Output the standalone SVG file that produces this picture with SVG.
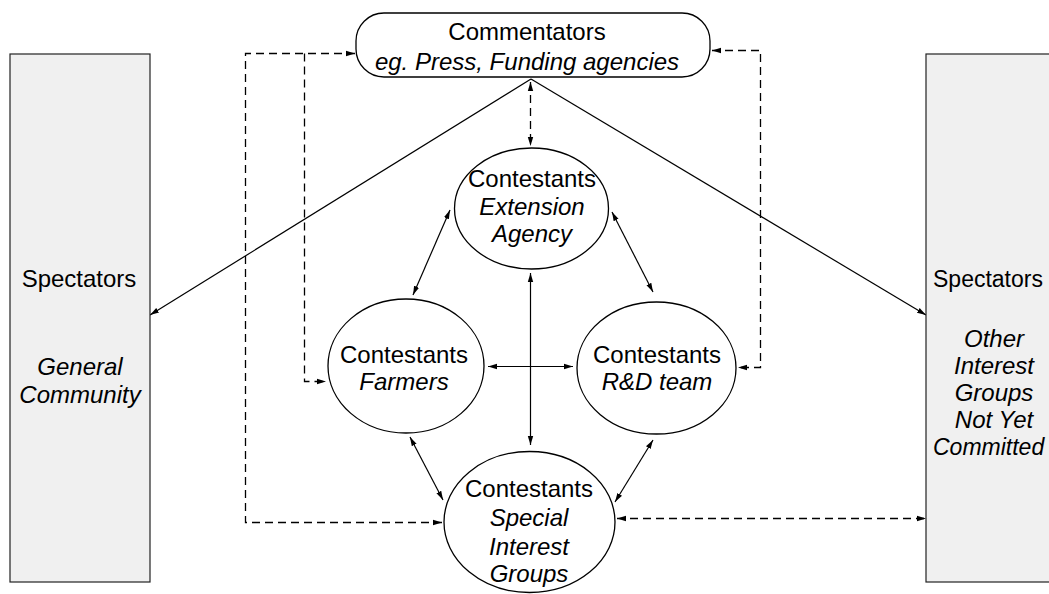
<svg xmlns="http://www.w3.org/2000/svg" width="1049" height="594" viewBox="0 0 1049 594">
<defs>
<marker id="ah" markerUnits="userSpaceOnUse" markerWidth="10" markerHeight="8" refX="9" refY="4" orient="auto-start-reverse">
<path d="M0,1.3 L9,4 L0,6.7 z" fill="#000"/>
</marker>
</defs>
<style>
text{font-family:"Liberation Sans",Arial,Helvetica,sans-serif;font-size:24px;fill:#000;text-anchor:middle}
.i{font-style:italic}
.edge{font-size:23px;text-anchor:start}
.spec{fill:#f0f0f0;stroke:#222;stroke-width:1.2}
.node{fill:#fff;stroke:#000;stroke-width:1.3}
.c{fill:none;stroke:#000;stroke-width:1.2}
.both{marker-start:url(#ah);marker-end:url(#ah)}
.end{marker-end:url(#ah)}
.d{stroke-dasharray:8,5;stroke-width:1.3}
</style>
<rect width="1049" height="594" fill="#fff"/>
<g id="connectors">
<path class="c end" d="M531,79 L150,315"/>
<path class="c end" d="M531,79 L926,315"/>
<path class="c both" d="M450,210 L413,295"/>
<path class="c both" d="M612,212 L653,292"/>
<path class="c both" d="M530.5,273 L530.5,445"/>
<path class="c both" d="M488,366.5 L573,366.5"/>
<path class="c both" d="M410,437 L443,500"/>
<path class="c both" d="M653,440 L615,502"/>
<path class="c d both" d="M355,53.5 H245.5 V522.5 H442"/>
<path class="c d end" d="M304.5,53.5 V381.5 H326"/>
<path class="c d both" d="M712,50.5 H760.5 V367.5 H738"/>
<path class="c d both" d="M530.5,82 V146"/>
<path class="c d both" d="M617,518.5 H926"/>
</g>
<g id="spectators-left">
<rect class="spec" x="10" y="54" width="140" height="528"/>
<text x="79" y="287">Spectators</text>
<text class="i" x="80" y="375">General</text>
<text class="i" x="80" y="403">Community</text>
</g>
<g id="spectators-right">
<rect class="spec" x="926" y="54" width="140" height="528"/>
<text class="edge" x="933" y="287">Spectators</text>
<text class="i" x="994" y="347">Other</text>
<text class="i" x="994" y="374">Interest</text>
<text class="i" x="994" y="401">Groups</text>
<text class="i" x="994" y="428">Not Yet</text>
<text class="i edge" x="933" y="455">Committed</text>
</g>
<g id="commentators">
<rect class="node" x="356" y="13" width="354" height="64" rx="28" ry="28"/>
<text x="527" y="40">Commentators</text>
<text class="i" x="527" y="70">eg. Press, Funding agencies</text>
</g>
<g id="extension">
<ellipse class="node" cx="531.5" cy="208.5" rx="77" ry="60.5"/>
<text x="532" y="187">Contestants</text>
<text class="i" x="532" y="215">Extension</text>
<text class="i" x="532" y="242">Agency</text>
</g>
<g id="farmers">
<ellipse class="node" cx="406" cy="366" rx="78" ry="67"/>
<text x="404" y="363">Contestants</text>
<text class="i" x="404" y="390">Farmers</text>
</g>
<g id="rnd">
<ellipse class="node" cx="656.5" cy="368" rx="79.5" ry="66"/>
<text x="657" y="363">Contestants</text>
<text class="i" x="657" y="390">R&amp;D team</text>
</g>
<g id="special">
<ellipse class="node" cx="529.5" cy="522" rx="85.5" ry="70.5"/>
<text x="529" y="497">Contestants</text>
<text class="i" x="529" y="526">Special</text>
<text class="i" x="529" y="555">Interest</text>
<text class="i" x="529" y="582">Groups</text>
</g>
</svg>
